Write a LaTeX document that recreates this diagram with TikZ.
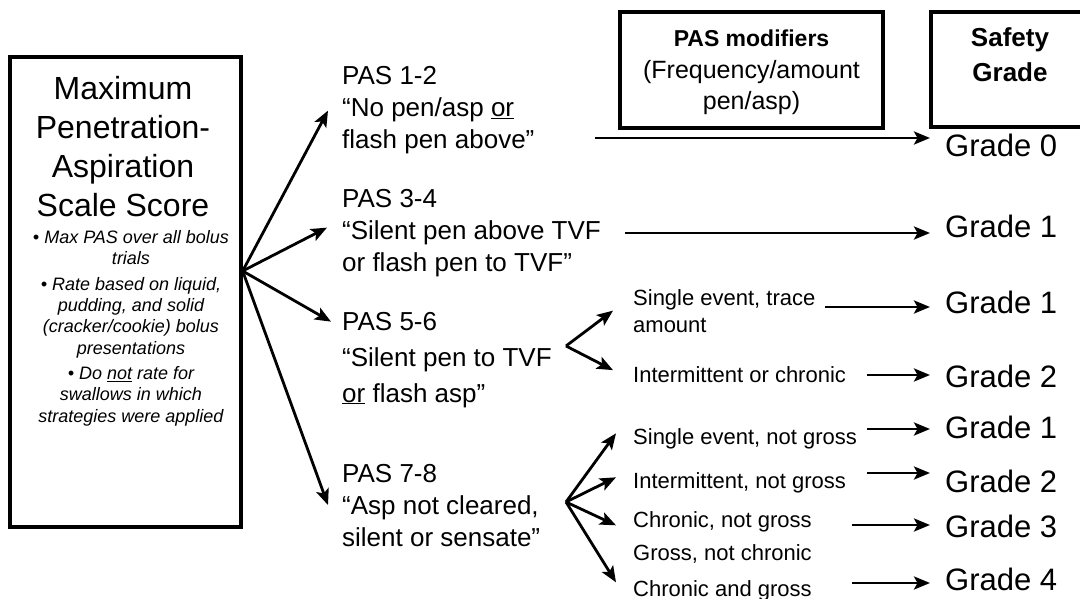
\documentclass[tikz,border=0pt]{standalone}
\usepackage{fontspec}
\setmainfont{Liberation Sans}
\usetikzlibrary{positioning, calc, arrows.meta}
\tikzset{arr/.style={draw, -{Stealth[length=16pt, width=13pt, inset=3.5pt]}, line width=2.8pt}}
\tikzset{hdrbox/.style={draw, line width=3.3pt, inner sep=0pt}}
\tikzset{pas/.style={anchor=base west, align=left, inner sep=0pt, font=\fontsize{26}{32}\selectfont}}
\tikzset{modtxt/.style={anchor=base west, align=left, inner sep=0pt, font=\fontsize{22}{27}\selectfont}}
\tikzset{grade/.style={anchor=base west, inner sep=0pt, font=\fontsize{31}{37}\selectfont}}

\begin{document}
\begin{tikzpicture}[x=1pt, y=-1pt]
	\useasboundingbox (0,0) rectangle (1080,599);

	% left box (multi-line nodes sit on their last baseline)
	\node[hdrbox, minimum width=231, minimum height=470] (maxbox) at (125.5,292) {};
	\node[anchor=base, align=center, inner sep=0pt, font=\fontsize{32}{39.3}\selectfont] (maxtitle) at (123,217)
		{Maximum\\Penetration-\\Aspiration\\Scale Score};
	\node[anchor=base, align=center, inner sep=0pt, font=\fontsize{18}{21.3}\selectfont\itshape] (maxnotes) at (131,422)
		{\textbullet\ Max PAS over all bolus\\trials\\[4pt]
		 \textbullet\ Rate based on liquid,\\pudding, and solid\\(cracker/cookie) bolus\\presentations\\[4pt]
		 \textbullet\ Do \underline{not} rate for\\swallows in which\\strategies were applied};

	% headers
	\node[hdrbox, minimum width=263, minimum height=116] (modbox) at (751.5,70) {};
	\node[anchor=base, align=center, inner sep=0pt, font=\fontsize{25}{31.5}\selectfont] (modtxt) at (751.5,110)
		{{\fontsize{23}{31.5}\selectfont\bfseries PAS modifiers}\\(Frequency/amount\\pen/asp)};
	\node[hdrbox, minimum width=158, minimum height=115] (safetybox) at (1010,69.5) {};
	\node[anchor=base, align=center, inner sep=0pt, font=\fontsize{26}{35}\selectfont\bfseries] (safetytxt) at (1010,82) {Safety\\Grade};

	% PAS scores
	\node[pas] (pas12) at (342,149) {PAS 1-2\\“No pen/asp \underline{or}\\flash pen above”};
	\node[pas] (pas34) at (342,271) {PAS 3-4\\“Silent pen above TVF\\or flash pen to TVF”};
	\node[pas, font=\fontsize{26}{36}\selectfont] (pas56) at (342,402) {PAS 5-6\\“Silent pen to TVF\\\underline{or} flash asp”};
	\node[pas] (pas78) at (342,546) {PAS 7-8\\“Asp not cleared,\\silent or sensate”};

	% modifiers
	\node[modtxt] (trace) at (633,332) {Single event, trace\\amount};
	\node[modtxt] (intchr) at (633,382) {Intermittent or chronic};
	\node[modtxt] (sng) at (633,444) {Single event, not gross};
	\node[modtxt] (intng) at (633,488) {Intermittent, not gross};
	\node[modtxt] (chrng) at (633,527) {Chronic, not gross};
	\node[modtxt] (grnc) at (633,560) {Gross, not chronic};
	\node[modtxt] (chrg) at (633,596) {Chronic and gross};

	% grades
	\node[grade] (g0) at (945,157) {Grade 0};
	\node[grade] (g1a) at (945,237) {Grade 1};
	\node[grade] (g1b) at (945,313) {Grade 1};
	\node[grade] (g2a) at (945,387) {Grade 2};
	\node[grade] (g1c) at (945,438) {Grade 1};
	\node[grade] (g2b) at (945,492) {Grade 2};
	\node[grade] (g3) at (945,537) {Grade 3};
	\node[grade] (g4) at (945,590) {Grade 4};

	% fans
	\coordinate (fan) at ([yshift=21pt]maxbox.east);
	\coordinate (fan56) at (566,346);
	\coordinate (fan78) at (566,502);
	\draw[arr] (fan) -- ([xshift=-14pt]pas12.west);
	\draw[arr] (fan) -- ([xshift=-15pt, yshift=5pt]pas34.west);
	\draw[arr] (fan) -- ([xshift=-11pt, yshift=-10pt]pas56.north west);
	\draw[arr] (fan) -- ([xshift=-14pt]pas78.west);

	\draw[arr] (fan56) -- ([xshift=-20pt]trace.west);
	\draw[arr] (fan56) -- ([xshift=-20pt, yshift=4pt]intchr.west);

	\draw[arr] (fan78) -- ([xshift=-17pt, yshift=5pt]sng.west);
	\draw[arr] (fan78) -- ([xshift=-17pt, yshift=5pt]intng.west);
	\draw[arr] (fan78) -- ([xshift=-17pt, yshift=-4pt]chrng.west);
	\draw[arr] (fan78) -- ([xshift=-17pt, yshift=8pt]chrg.west);

	% to grades
	\coordinate (s0) at (595,138);
	\coordinate (s1) at (625,233);
	\coordinate (s2) at (825,307);
	\coordinate (s3) at (867,375);
	\coordinate (s4) at (867,429);
	\coordinate (s5) at (867,473);
	\coordinate (s6) at (852,525);
	\coordinate (s7) at (852,583);
	\foreach \s/\g in {s0/g0, s1/g1a, s2/g1b, s3/g2a, s4/g1c, s5/g2b, s6/g3, s7/g4}
		\draw[arr, shorten >=15pt] (\s) -- (\s -| \g.west);
\end{tikzpicture}
\end{document}
